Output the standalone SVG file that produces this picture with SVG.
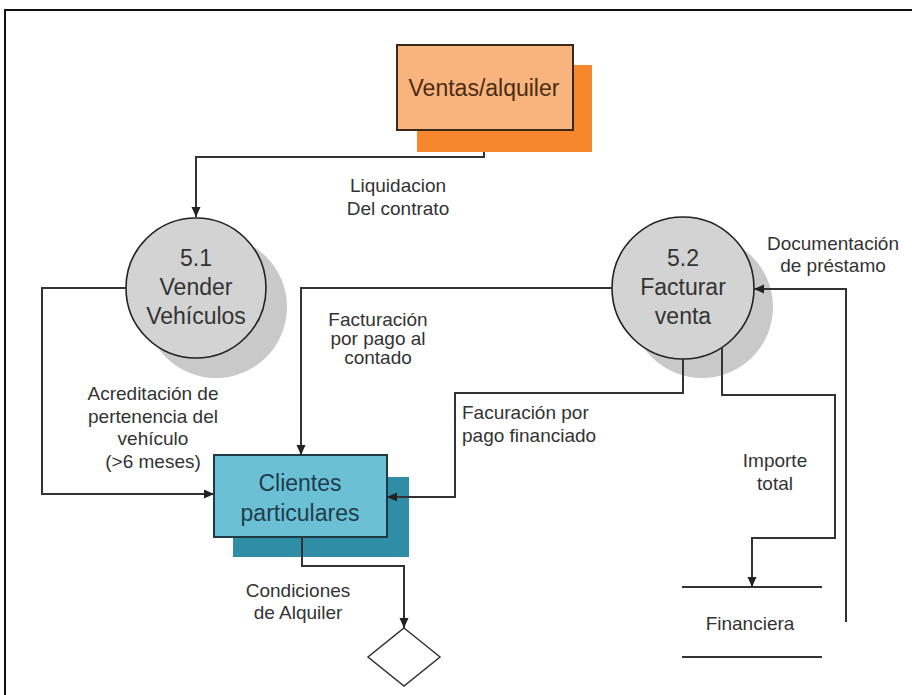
<svg xmlns="http://www.w3.org/2000/svg" width="912" height="695" viewBox="0 0 912 695">
<defs>
<marker id="arr" markerWidth="11" markerHeight="10" refX="10" refY="4.5" orient="auto" markerUnits="userSpaceOnUse">
<path d="M0,0 L10,4.5 L0,9 z" fill="#222"/>
</marker>
<style>
.lbl{font-family:"Liberation Sans",Arial,sans-serif;font-size:19px;fill:#333;text-anchor:middle}
.big{font-family:"Liberation Sans",Arial,sans-serif;font-size:23px;text-anchor:middle}
.ln{fill:none;stroke:#333;stroke-width:2}
.proc{fill:#d3d3d3;stroke:#222;stroke-width:1.6}
.psh{fill:#c9c9c9}
</style>
</defs>
<rect x="0" y="0" width="912" height="695" fill="#fff"/>
<rect x="5" y="10" width="920" height="700" fill="none" stroke="#111" stroke-width="2"/>

<g id="ventas">
<rect x="417" y="65" width="175" height="87" fill="#f7872d"/>
<rect x="397" y="45" width="176" height="85" fill="#f9b47e" stroke="#3a2818" stroke-width="2"/>
<text class="big" x="484" y="96" fill="#4a2c12">Ventas/alquiler</text>
</g>

<g id="p51">
<circle class="psh" cx="216" cy="307" r="71"/>
<circle class="proc" cx="196" cy="288" r="70"/>
<text class="big" x="196" y="266" fill="#333">5.1</text>
<text class="big" x="196" y="295" fill="#333">Vender</text>
<text class="big" x="196" y="324" fill="#333">Vehículos</text>
</g>

<g id="p52">
<circle class="psh" cx="702" cy="307" r="71"/>
<circle class="proc" cx="683" cy="288" r="71"/>
<text class="big" x="683" y="266" fill="#333">5.2</text>
<text class="big" x="683" y="295" fill="#333">Facturar</text>
<text class="big" x="683" y="324" fill="#333">venta</text>
</g>

<g id="clientes">
<rect x="233" y="477" width="176" height="80" fill="#2f8ea6"/>
<rect x="214" y="455" width="173" height="82" fill="#6cc0d6" stroke="#1f3a44" stroke-width="2"/>
<text class="big" x="300" y="491" font-size="24" fill="#1d3d4b">Clientes</text>
<text class="big" x="300" y="521" font-size="24" fill="#1d3d4b">particulares</text>
</g>

<g id="financiera">
<line x1="682" y1="587" x2="822" y2="587" stroke="#333" stroke-width="2"/>
<line x1="682" y1="657" x2="822" y2="657" stroke="#333" stroke-width="2"/>
<text class="lbl" x="750" y="630" font-size="21">Financiera</text>
</g>

<g id="decision">
<polygon points="404,628 440,657 404,686 368,657" fill="#fff" stroke="#333" stroke-width="1.5"/>
</g>

<g id="connectors">
<path class="ln" d="M484,152 V157 H196 V217" marker-end="url(#arr)"/>
<path class="ln" d="M126,288 H42 V494 H214" marker-end="url(#arr)"/>
<path class="ln" d="M612,288 H301 V455" marker-end="url(#arr)"/>
<path class="ln" d="M683,359 V393 H455 V497 H387" marker-end="url(#arr)"/>
<path class="ln" d="M722,347 V395 H835 V538 H752 V587" marker-end="url(#arr)"/>
<path class="ln" d="M846,622 V289 H754" marker-end="url(#arr)"/>
<path class="ln" d="M302,537 V566 H404 V628" marker-end="url(#arr)"/>
</g>

<g id="labels">
<text class="lbl" x="398" y="192">Liquidacion</text>
<text class="lbl" x="398" y="215">Del contrato</text>
<text class="lbl" x="833" y="250">Documentación</text>
<text class="lbl" x="833" y="272">de préstamo</text>
<text class="lbl" x="378" y="326" font-size="17">Facturación</text>
<text class="lbl" x="378" y="345" font-size="17">por pago al</text>
<text class="lbl" x="378" y="364" font-size="17">contado</text>
<text class="lbl" x="153" y="400">Acreditación  de</text>
<text class="lbl" x="153" y="423">pertenencia del</text>
<text class="lbl" x="153" y="445">vehículo</text>
<text class="lbl" x="153" y="468">(&gt;6 meses)</text>
<text class="lbl" x="462" y="419" style="text-anchor:start">Facuración por</text>
<text class="lbl" x="462" y="442" style="text-anchor:start">pago financiado</text>
<text class="lbl" x="775" y="467">Importe</text>
<text class="lbl" x="775" y="490">total</text>
<text class="lbl" x="298" y="597">Condiciones</text>
<text class="lbl" x="298" y="619">de Alquiler</text>
</g>
</svg>
